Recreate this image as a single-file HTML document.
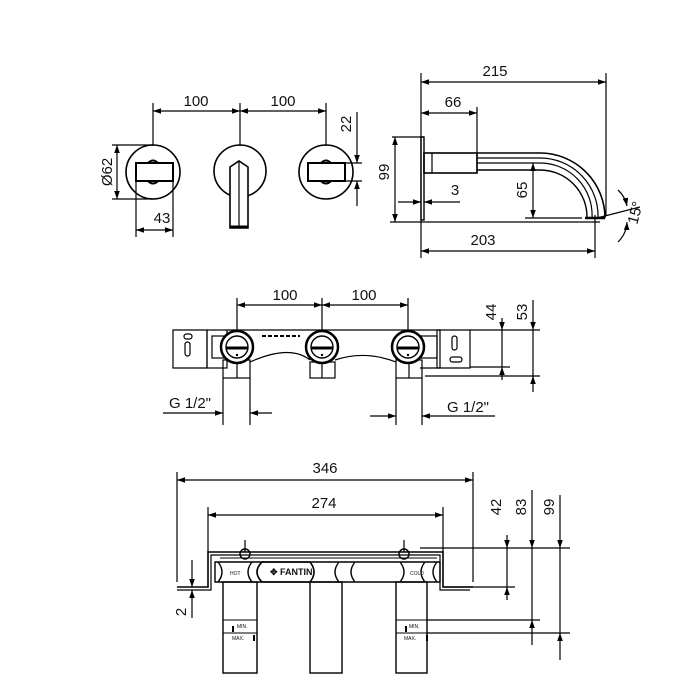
<!DOCTYPE html>
<html><head><meta charset="utf-8"><style>
html,body{margin:0;padding:0;background:#fff}
svg{display:block}
text{font-family:"Liberation Sans",sans-serif;font-size:15px;fill:#111}
</style></head><body>
<svg width="700" height="700" viewBox="0 0 700 700" xmlns="http://www.w3.org/2000/svg">
<defs>
<marker id="a" viewBox="0 0 10 10" refX="10" refY="5" markerWidth="8" markerHeight="8" orient="auto-start-reverse" markerUnits="userSpaceOnUse"><path d="M0,1.5 L10,5 L0,8.5 z" fill="#000"/></marker>
</defs>
<g stroke="#000" stroke-width="1.2" fill="none">
<!-- ===== top-left view ===== -->
<line x1="153" y1="103" x2="153" y2="146"/>
<line x1="240" y1="103" x2="240" y2="146"/>
<line x1="326" y1="103" x2="326" y2="146"/>
<line x1="153" y1="111" x2="240" y2="111" marker-start="url(#a)" marker-end="url(#a)"/>
<line x1="240" y1="111" x2="326" y2="111" marker-start="url(#a)" marker-end="url(#a)"/>
<circle cx="153" cy="172" r="27" stroke-width="1.6"/>
<circle cx="240" cy="171" r="26" stroke-width="1.6"/>
<circle cx="326" cy="172" r="27" stroke-width="1.6"/>
<rect x="136" y="163" width="37" height="18" stroke-width="2"/>
<rect x="308" y="163" width="37" height="18" stroke-width="2"/>
<path d="M148,163 Q153,158 158,163 M148,181 Q153,186 158,181 M321,163 Q326,158 331,163 M321,181 Q326,186 331,181" stroke-width="2"/>
<path d="M230,228 L230,167 L239,161 L248,167 L248,228 Z" fill="#fff" stroke-width="1.6"/>
<line x1="239" y1="161" x2="239" y2="228"/>
<line x1="230" y1="227" x2="248" y2="227" stroke-width="3"/>
<line x1="112" y1="145" x2="153" y2="145"/>
<line x1="112" y1="199" x2="153" y2="199"/>
<line x1="117" y1="145" x2="117" y2="199" marker-start="url(#a)" marker-end="url(#a)"/>
<line x1="136" y1="181" x2="136" y2="237"/>
<line x1="173" y1="181" x2="173" y2="237"/>
<line x1="136" y1="230" x2="173" y2="230" marker-start="url(#a)" marker-end="url(#a)"/>
<line x1="345" y1="163" x2="362" y2="163"/>
<line x1="345" y1="181" x2="362" y2="181"/>
<line x1="357" y1="112" x2="357" y2="163" marker-end="url(#a)"/>
<line x1="357" y1="181" x2="357" y2="206" marker-start="url(#a)"/>

<!-- ===== spout side view ===== -->
<line x1="421" y1="73" x2="421" y2="258"/>
<line x1="606" y1="73" x2="606" y2="215"/>
<line x1="421" y1="82" x2="606" y2="82" marker-start="url(#a)" marker-end="url(#a)"/>
<line x1="477" y1="107" x2="477" y2="172"/>
<line x1="421" y1="113" x2="477" y2="113" marker-start="url(#a)" marker-end="url(#a)"/>
<rect x="421" y="137" width="3" height="83" stroke-width="1.4"/>
<line x1="392" y1="137" x2="424" y2="137"/>
<line x1="395" y1="137" x2="395" y2="222" marker-start="url(#a)" marker-end="url(#a)"/>
<rect x="424" y="153" width="53" height="20" stroke-width="1.6"/>
<line x1="432" y1="153" x2="432" y2="173"/>
<path d="M477,153 L540,153 A65,65 0 0 1 605,218" stroke-width="1.6"/>
<path d="M477,158 L540,158 A58,58 0 0 1 598,218"/>
<path d="M477,163 L540,163 A52,52 0 0 1 592,218"/>
<path d="M477,170 L540,170 A47,47 0 0 1 587,218" stroke-width="1.4"/>
<line x1="585" y1="218" x2="605" y2="218" stroke-width="2.5"/>
<line x1="525" y1="218" x2="582" y2="218"/>
<line x1="533" y1="163" x2="533" y2="218" marker-start="url(#a)" marker-end="url(#a)"/>
<line x1="390" y1="222" x2="600" y2="222"/>
<line x1="398" y1="202" x2="421" y2="202" marker-end="url(#a)"/>
<line x1="424" y1="202" x2="460" y2="202" marker-start="url(#a)"/>
<line x1="595" y1="215" x2="595" y2="258"/>
<line x1="421" y1="251" x2="595" y2="251" marker-start="url(#a)" marker-end="url(#a)"/>
<line x1="597" y1="218" x2="640" y2="207"/>
<path d="M618,190 A30,30 0 0 1 627,206" marker-end="url(#a)"/>
<path d="M627,222 A30,30 0 0 1 618,242" marker-start="url(#a)"/>

<!-- ===== middle view ===== -->
<line x1="237" y1="298" x2="237" y2="345"/>
<line x1="322" y1="298" x2="322" y2="345"/>
<line x1="408" y1="298" x2="408" y2="345"/>
<line x1="237" y1="305" x2="322" y2="305" marker-start="url(#a)" marker-end="url(#a)"/>
<line x1="322" y1="305" x2="408" y2="305" marker-start="url(#a)" marker-end="url(#a)"/>
<path d="M173,330 H207 V368 H173 Z" />
<rect x="207" y="330" width="20" height="38"/>
<path d="M227,330 H440 V368 H420" />
<rect x="212" y="336" width="16" height="22"/>
<rect x="417" y="336" width="20" height="22"/>
<path d="M437,330 H470 V368 H437 Z"/>
<path d="M470,330 H540 M470,367 H510 M425,376 H540"/>
<rect x="184" y="334" width="8" height="5" rx="2.5"/>
<rect x="185" y="342" width="5" height="14" rx="2.5"/>
<rect x="452" y="336" width="5" height="14" rx="2.5"/>
<rect x="450" y="357" width="12" height="5" rx="2.5"/>
<path d="M250,362 Q290,344 310,360 M335,360 Q365,350 396,362"/>
<rect x="223" y="360" width="27" height="18"/><line x1="237" y1="360" x2="237" y2="378"/>
<rect x="310" y="362" width="25" height="16"/><line x1="322" y1="362" x2="322" y2="378"/>
<rect x="396" y="360" width="26" height="18"/><line x1="409" y1="360" x2="409" y2="378"/>
<g stroke-width="2.5">
<circle cx="237" cy="347" r="16" fill="#fff"/>
<circle cx="322" cy="347" r="16" fill="#fff"/>
<circle cx="408" cy="347" r="16" fill="#fff"/>
</g>
<g stroke-width="1.4">
<circle cx="237" cy="347" r="11"/><circle cx="322" cy="347" r="11"/><circle cx="408" cy="347" r="11"/>
</g>
<g stroke-width="3"><line x1="226" y1="348" x2="248" y2="348"/><line x1="311" y1="348" x2="333" y2="348"/><line x1="397" y1="348" x2="419" y2="348"/></g>
<line x1="262" y1="336" x2="300" y2="336" stroke-dasharray="4 2" stroke-width="2"/>
<line x1="502" y1="318" x2="502" y2="330" marker-end="url(#a)"/>
<line x1="502" y1="330" x2="502" y2="367"/>
<line x1="502" y1="367" x2="502" y2="380" marker-start="url(#a)"/>
<line x1="533" y1="300" x2="533" y2="330" marker-end="url(#a)"/>
<line x1="533" y1="330" x2="533" y2="376"/>
<line x1="533" y1="376" x2="533" y2="392" marker-start="url(#a)"/>
<line x1="223" y1="378" x2="223" y2="425"/>
<line x1="250" y1="378" x2="250" y2="425"/>
<line x1="163" y1="413" x2="223" y2="413" marker-end="url(#a)"/>
<line x1="250" y1="413" x2="272" y2="413" marker-start="url(#a)"/>
<line x1="396" y1="378" x2="396" y2="425"/>
<line x1="422" y1="378" x2="422" y2="425"/>
<line x1="370" y1="416" x2="396" y2="416" marker-end="url(#a)"/>
<line x1="422" y1="416" x2="495" y2="416" marker-start="url(#a)"/>

<!-- ===== bottom view ===== -->
<line x1="177" y1="472" x2="177" y2="582"/>
<line x1="473" y1="472" x2="473" y2="582"/>
<line x1="177" y1="480" x2="473" y2="480" marker-start="url(#a)" marker-end="url(#a)"/>
<line x1="208" y1="507" x2="208" y2="552"/>
<line x1="443" y1="507" x2="443" y2="552"/>
<line x1="208" y1="515" x2="443" y2="515" marker-start="url(#a)" marker-end="url(#a)"/>
<path d="M177,587 H208 V552 H443 V587 H473" stroke-width="1.6"/>
<path d="M177,590 H211 V555 H440 V590 H470" />
<path d="M220,558 H437" stroke-width="1"/>
<path d="M215,562 H440 V582 H215 Z" stroke-width="1.4"/>
<path d="M218,562 Q226,572 218,582 M252,562 Q244,572 252,582" stroke-width="1.4"/>
<path d="M262,562 Q252,572 262,582 H310 Q318,572 310,562 Z" stroke-width="1.6"/>
<path d="M339,562 Q331,572 339,582 M355,562 Q347,572 355,582 M400,562 Q408,572 400,582" stroke-width="1.4"/>
<path d="M425,562 Q417,572 425,582 M437,562 Q429,572 437,582" stroke-width="1.4"/>
<circle cx="245" cy="554" r="5" stroke-width="1.4"/>
<circle cx="404" cy="554" r="5" stroke-width="1.4"/>
<line x1="245" y1="540" x2="245" y2="552"/><line x1="404" y1="540" x2="404" y2="552"/>
<rect x="223" y="582" width="34" height="91" stroke-width="1.4"/>
<rect x="310" y="582" width="32" height="91" stroke-width="1.4"/>
<rect x="396" y="582" width="31" height="91" stroke-width="1.4"/>
<path d="M223,620 H257 M223,633 H257 M396,620 H427 M396,633 H427" stroke-width="1"/>
<path d="M420,548 H570 M443,587 H515 M427,620 H540 M427,633 H570"/>
<line x1="507" y1="535" x2="507" y2="548" marker-end="url(#a)"/>
<line x1="507" y1="548" x2="507" y2="587"/>
<line x1="507" y1="587" x2="507" y2="600" marker-start="url(#a)"/>
<line x1="532" y1="490" x2="532" y2="548" marker-end="url(#a)"/>
<line x1="532" y1="548" x2="532" y2="620"/>
<line x1="532" y1="620" x2="532" y2="645" marker-start="url(#a)"/>
<line x1="560" y1="495" x2="560" y2="548" marker-end="url(#a)"/>
<line x1="560" y1="548" x2="560" y2="633"/>
<line x1="560" y1="633" x2="560" y2="660" marker-start="url(#a)"/>
<line x1="192" y1="560" x2="192" y2="587" marker-end="url(#a)"/>
<line x1="192" y1="590" x2="192" y2="618" marker-start="url(#a)"/>
</g>
<g fill="#000">
<rect x="232" y="626" width="2" height="6"/><rect x="253" y="635" width="2" height="6"/>
<rect x="405" y="626" width="2" height="6"/><rect x="426" y="635" width="2" height="6"/>
<circle cx="237" cy="355" r="1.2"/><circle cx="322" cy="355" r="1.2"/><circle cx="408" cy="355" r="1.2"/>
</g>
<text x="270" y="575" style="font-size:9px;font-weight:bold">✥ FANTINI</text>
<text x="230" y="575" style="font-size:5px">HOT</text>
<text x="410" y="575" style="font-size:5px">COLD</text>
<text x="237" y="628" style="font-size:5px">MIN.</text>
<text x="232" y="640" style="font-size:5px">MAX.</text>
<text x="409" y="628" style="font-size:5px">MIN.</text>
<text x="404" y="640" style="font-size:5px">MAX.</text>

<text x="196" y="106" text-anchor="middle">100</text>
<text x="283" y="106" text-anchor="middle">100</text>
<text transform="translate(112,172) rotate(-90)" text-anchor="middle">Ø62</text>
<text x="162" y="223" text-anchor="middle">43</text>
<text transform="translate(351,124) rotate(-90)" text-anchor="middle">22</text>
<text x="495" y="76" text-anchor="middle">215</text>
<text x="453" y="107" text-anchor="middle">66</text>
<text transform="translate(389,172) rotate(-90)" text-anchor="middle">99</text>
<text x="455" y="195" text-anchor="middle">3</text>
<text transform="translate(527,190) rotate(-90)" text-anchor="middle">65</text>
<text x="483" y="245" text-anchor="middle">203</text>
<text transform="translate(640,214) rotate(-75)" text-anchor="middle">15°</text>
<text x="285" y="300" text-anchor="middle">100</text>
<text x="364" y="300" text-anchor="middle">100</text>
<text transform="translate(496,312) rotate(-90)" text-anchor="middle">44</text>
<text transform="translate(527,312) rotate(-90)" text-anchor="middle">53</text>
<text x="190" y="408" text-anchor="middle">G 1/2"</text>
<text x="468" y="412" text-anchor="middle">G 1/2"</text>
<text x="325" y="473" text-anchor="middle">346</text>
<text x="324" y="508" text-anchor="middle">274</text>
<text transform="translate(501,507) rotate(-90)" text-anchor="middle">42</text>
<text transform="translate(526,507) rotate(-90)" text-anchor="middle">83</text>
<text transform="translate(554,507) rotate(-90)" text-anchor="middle">99</text>
<text transform="translate(186,612) rotate(-90)" text-anchor="middle">2</text>
</svg>
</body></html>
